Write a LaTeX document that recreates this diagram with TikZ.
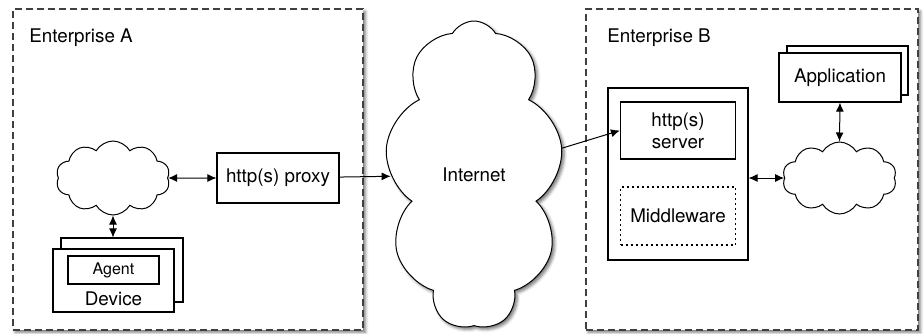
\documentclass[tikz,border=0pt]{standalone}
\usepackage{fontspec}
\setmainfont{TeX Gyre Heros}
\usepackage{tikz}
\usetikzlibrary{shapes.symbols, positioning, arrows.meta, shadows.blur}

\begin{document}
\begin{tikzpicture}[x=0.5pt, y=-0.5pt, font=\fontsize{9.4}{11}\selectfont,
  softshadow/.style={blur shadow={shadow xshift=1.2pt, shadow yshift=-1.2pt, shadow blur radius=1.5pt, shadow opacity=55}},
  encl/.style={draw=black!75, line width=0.6pt, dash pattern=on 3.5pt off 2pt, fill=white, softshadow},
  box/.style={draw, line width=0.55pt, fill=white, inner sep=0pt},
  puff/.style={cloud, draw, line width=0.5pt, fill=white, cloud puffs=10, cloud puff arc=120, cloud ignores aspect, inner sep=0pt},
  dbl/.style={{Latex[length=4.5pt,width=4pt]}-{Latex[length=4.5pt,width=4pt]}, line width=0.5pt},
  sgl/.style={-{Latex[length=4.5pt,width=4pt]}, line width=0.5pt}]

\useasboundingbox (0,0) rectangle (923,333);

\node[encl, minimum width=175pt, minimum height=160.5pt] (entA) at (188,169.5) {};

\node[encl, minimum width=166pt, minimum height=160.5pt] (entB) at (752,169.5) {};

\node[anchor=base west, inner sep=0pt] (lblA) at (29,42) {Enterprise A};

\node[anchor=base west, inner sep=0pt] (lblB) at (607,42) {Enterprise B};

\node[puff, minimum width=57pt, minimum height=37pt] (lanA) at (113,178) {};

\node[box, minimum width=61pt, minimum height=25pt] (proxy) at (278,178) {http(s) proxy};

\node[box, minimum width=61pt, minimum height=32pt] (devback) at (122,270) {};

\node[box, minimum width=60.5pt, minimum height=31.5pt] (dev) at (113.5,280.5) {};

\node[box, minimum width=45.5pt, minimum height=14pt, font=\fontsize{8}{9}\selectfont, below=3.5pt of dev.north] (agent) {Agent};

\node[above=0pt of dev.south] (devlbl) {Device};

\node[puff, softshadow, cloud puffs=9, minimum width=89pt, minimum height=154pt] (inet) at (474,175) {Internet};

\node[box, minimum width=70pt, minimum height=86pt] (srv) at (678,174) {};

\node[box, minimum width=57.5pt, minimum height=28.5pt, align=center, below=7pt of srv.north] (httpsrv) {http(s)\\server};

\node[box, dash pattern=on 1pt off 1.5pt, minimum width=57.5pt, minimum height=29pt, above=7.5pt of srv.south] (mw) {Middleware};

\node[box, minimum width=60.5pt, minimum height=24.5pt] (appback) at (847.5,70.5) {};

\node[box, minimum width=61pt, minimum height=24.5pt] (app) at (840,77.5) {Application};

\node[puff, minimum width=57pt, minimum height=36pt] (lanB) at (839.5,178) {};

\draw[dbl] (lanA.east) -- (proxy.west);

\draw[dbl] (lanA.south) -- (lanA.south |- devback.north);

\draw[sgl] (proxy) -- (inet);

\draw[sgl] (inet) -- (httpsrv.west);

\draw[dbl] (lanB.west -| srv.east) -- (lanB.west);

\draw[dbl] (app.south) -- (lanB.north);

\end{tikzpicture}
\end{document}
